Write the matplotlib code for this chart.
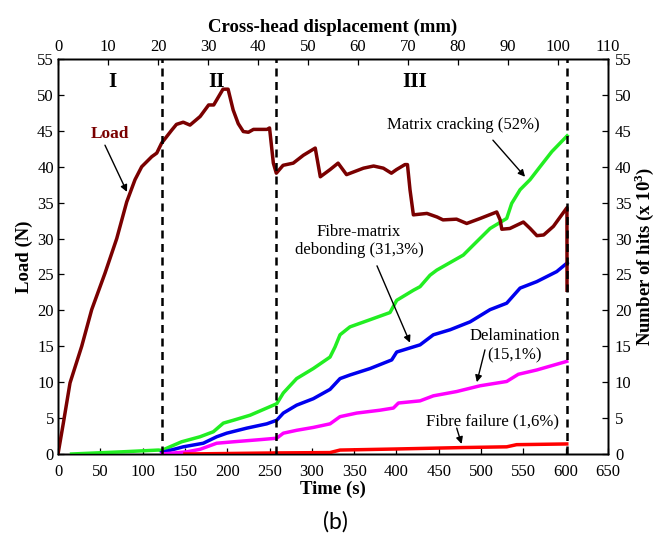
import matplotlib
matplotlib.use('Agg')
import matplotlib.pyplot as plt

plt.rcParams['font.family'] = ['Liberation Serif', 'DejaVu Serif']
plt.rcParams['mathtext.fontset'] = 'custom'
plt.rcParams['mathtext.rm'] = 'Liberation Serif'
plt.rcParams['mathtext.bf'] = 'Liberation Serif:bold'

# Load curve (time in s, load in N)
t_load = [0, 6.3, 14.2, 28, 39.8, 55.6, 69.4, 81.2, 91, 98.9, 110.8, 116.7, 122.5,
          134.4, 140, 148, 156, 168, 178, 184, 195, 201, 207, 213, 219, 225, 231,
          247, 250, 254.5, 258, 266, 278, 290, 304, 310, 321.5, 331, 341, 361, 373,
          384.5, 394, 400, 410, 413, 416, 420, 436, 448, 455, 471, 483, 499, 518.5,
          522.5, 524.5, 534, 550, 558, 566, 574, 585.5, 601.5, 601.6]
load = [0, 4.3, 9.9, 15, 20.1, 25.2, 30, 35.1, 38.2, 40, 41.4, 41.9, 43.3,
        45.1, 45.9, 46.2, 45.8, 47, 48.6, 48.6, 50.8, 50.8, 47.9, 46, 44.9, 44.8, 45.2,
        45.2, 45.4, 40.5, 39.1, 40.2, 40.5, 41.6, 42.6, 38.6, 39.6, 40.5, 38.9, 39.8, 40.1,
        39.8, 39.1, 39.6, 40.3, 40.3, 36.8, 33.3, 33.5, 33, 32.6, 32.7, 32.1, 32.8, 33.7,
        32.6, 31.3, 31.4, 32.3, 31.4, 30.4, 30.5, 31.7, 34.3, 22.8]

# Cumulative hits per damage mechanism (x 10^3)
t_matrix = [16, 75, 118.6, 122.5, 146, 167.8, 183.6, 195.4, 207.2, 227, 246.7, 258.5,
            266.3, 282, 301.7, 321.5, 327.4, 333.3, 345, 368.8, 392.4, 400.3, 420,
            427.9, 439.7, 447.6, 479, 490.9, 510.6, 530.3, 536.2, 546.1, 557.9, 569.7,
            583.6, 601.7]
matrix = [0, 0.3, 0.55, 0.5, 1.7, 2.4, 3.1, 4.3, 4.7, 5.4, 6.4, 7.0,
          8.5, 10.5, 11.9, 13.5, 14.9, 16.6, 17.7, 18.7, 19.7, 21.4, 22.8,
          23.3, 24.9, 25.6, 27.7, 29.1, 31.4, 32.8, 34.9, 36.8, 38.2, 40.0,
          42.1, 44.3]

t_debond = [122.5, 148, 171.7, 187.5, 199.4, 223, 246.7, 258.5, 266.3, 282, 301.7,
            321.5, 333.3, 345, 368.8, 394.4, 400.3, 427.9, 443.6, 463.4, 487, 510.6,
            530.3, 546.1, 565.8, 589.4, 601.7]
debond = [0.2, 1.0, 1.5, 2.4, 2.9, 3.6, 4.2, 4.7, 5.7, 6.8, 7.7,
          9.0, 10.5, 11.0, 11.9, 13.1, 14.2, 15.2, 16.6, 17.3, 18.4, 20.1,
          21.0, 23.1, 24.0, 25.4, 26.6]

t_delam = [122.5, 152, 167.8, 187.5, 207.2, 238.8, 258.5, 266.3, 282, 301.7, 321.5,
           333.3, 353, 380.6, 396.4, 402.3, 427.9, 443.6, 471.2, 498.8, 514.5, 530.3,
           544, 565.8, 601.3]
delam = [0, 0.3, 0.65, 1.5, 1.7, 2.0, 2.2, 2.9, 3.3, 3.7, 4.2,
         5.2, 5.7, 6.1, 6.4, 7.1, 7.4, 8.1, 8.7, 9.5, 9.8, 10.1,
         11.1, 11.7, 12.9]

t_fibre = [150, 258, 321.5, 333.3, 400.3, 479, 530.3, 542, 601.3]
fibre = [0, 0.15, 0.2, 0.55, 0.7, 0.9, 1.0, 1.3, 1.4]

# stage boundaries (s)
stages = [122.5, 258, 601.7]

fig = plt.figure(figsize=(6.57, 5.34), dpi=100)
ax = fig.add_axes([0.0883, 0.1498, 0.8371, 0.7397])
ax2 = ax.twinx()
ax3 = ax.twiny()

lw = 2.5
ax2.plot(t_matrix, matrix, color='#22ee22', lw=lw, zorder=3)
ax2.plot(t_debond, debond, color='#0000ee', lw=lw, zorder=3)
ax2.plot(t_delam, delam, color='#ff00ff', lw=lw, zorder=3)
ax2.plot(t_fibre, fibre, color='#ff0000', lw=lw, zorder=3)
ax2.plot(t_load, load, color='#7a0000', lw=lw, zorder=4)

for s in stages:
    ax2.axvline(s, color='black', lw=1.8, ls=(0, (3.2, 2.2)), zorder=5)

ax.set_xlim(0, 650)
ax.set_ylim(0, 55)
ax2.set_ylim(0, 55)
ax3.set_xlim(0, 110)
ax.set_xticks(range(0, 651, 50))
ax.set_yticks(range(0, 56, 5))
ax2.set_yticks(range(0, 56, 5))
ax3.set_xticks(range(0, 111, 10))

for a in (ax, ax2, ax3):
    a.tick_params(direction='in', labelsize=12, length=4, width=0.9)
    for sp in a.spines.values():
        sp.set_linewidth(1.0)
ax.tick_params(axis='x', pad=7)
ax.tick_params(axis='y', pad=3)
ax2.tick_params(axis='y', pad=5)
ax3.tick_params(axis='x', pad=3)

ax.set_xlabel('Time (s)', fontsize=13.5, fontweight='bold', labelpad=1)
ax.set_ylabel('Load (N)', fontsize=13.5, fontweight='bold', labelpad=3)
ax2.set_ylabel(r'Number of hits (x 10$^{\mathbf{3}}$)', fontsize=13.5,
               fontweight='bold', labelpad=0)
ax3.set_xlabel('Cross-head displacement (mm)', fontsize=13.5, fontweight='bold',
               labelpad=5)

# stage labels
for x, lab in [(64, 'I'), (187, 'II'), (421, 'III')]:
    ax2.text(x, 51.8, lab, fontsize=15.5, fontweight='bold', ha='center', va='center')

arrow = dict(arrowstyle='-|>', color='black', lw=1.0, mutation_scale=10,
             shrinkA=0, shrinkB=0)

ax2.text(61, 44.5, 'Load', fontsize=12.5, fontweight='bold', color='#7a0000',
         ha='center', va='center')
ax2.annotate('', xy=(81.5, 36.5), xytext=(55.5, 43.0), arrowprops=arrow)

ax2.text(478.7, 45.8, 'Matrix cracking (52%)', fontsize=12, ha='center', va='center')
ax2.annotate('', xy=(552, 38.6), xytext=(514, 43.7), arrowprops=arrow)

ax2.text(355.7, 29.7, 'Fibre-matrix\ndebonding (31,3%)', fontsize=12,
         ha='center', va='center', linespacing=1.15)
ax2.annotate('', xy=(416, 15.5), xytext=(377, 26.2), arrowprops=arrow)

ax2.text(539.5, 15.1, 'Delamination\n(15,1%)', fontsize=12,
         ha='center', va='center', linespacing=1.3)
ax2.annotate('', xy=(495, 10.0), xytext=(504.6, 14.5), arrowprops=arrow)

ax2.text(514, 4.5, 'Fibre failure (1,6%)', fontsize=12, ha='center', va='center')
ax2.annotate('', xy=(477, 1.4), xytext=(471.2, 3.6), arrowprops=arrow)

fig.text(0.51, 0.023, '(b)', fontsize=16.5, ha='center', va='center',
         family=['Lato', 'DejaVu Sans'])

fig.savefig('out.png', dpi=100)
